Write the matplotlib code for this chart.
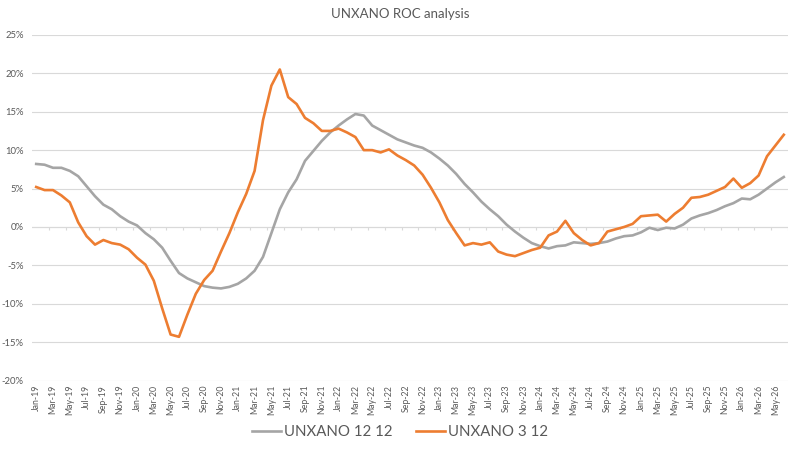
import matplotlib
matplotlib.use("Agg")
import matplotlib.pyplot as plt
import numpy as np
import pandas as pd
from matplotlib.ticker import FuncFormatter

# monthly categories Jan-19 .. Jun-26
months = pd.date_range("2019-01-01", periods=90, freq="MS")
month_labels = [d.strftime("%b-%y") for d in months]

# UNXANO 12 12 (grey), percent
roc_12_12 = [8.2, 8.1, 7.7, 7.7, 7.3, 6.6, 5.3, 4.0, 2.9, 2.3,
             1.4, 0.7, 0.2, -0.8, -1.6, -2.7, -4.4, -6.0, -6.7, -7.2,
             -7.7, -7.9, -8.0, -7.8, -7.4, -6.7, -5.7, -3.9, -0.8, 2.3,
             4.5, 6.2, 8.6, 9.9, 11.2, 12.3, 13.2, 14.0, 14.7, 14.5,
             13.2, 12.6, 12.0, 11.4, 11.0, 10.6, 10.3, 9.7, 8.9, 8.0,
             6.9, 5.6, 4.5, 3.3, 2.3, 1.4, 0.3, -0.6, -1.4, -2.1,
             -2.5, -2.8, -2.5, -2.4, -2.0, -2.1, -2.2, -2.1, -1.9, -1.5,
             -1.2, -1.1, -0.7, -0.1, -0.4, -0.1, -0.2, 0.3, 1.1, 1.5,
             1.8, 2.2, 2.7, 3.1, 3.7, 3.6, 4.2, 5.0, 5.8, 6.5]

# UNXANO 3 12 (orange), percent
roc_3_12 = [5.2, 4.8, 4.8, 4.1, 3.2, 0.6, -1.2, -2.3, -1.7, -2.1,
            -2.3, -2.9, -4.0, -4.9, -7.0, -10.6, -14.0, -14.3, -11.4, -8.7,
            -6.9, -5.7, -3.2, -0.8, 1.9, 4.3, 7.3, 13.9, 18.4, 20.5,
            16.9, 16.0, 14.2, 13.5, 12.5, 12.5, 12.8, 12.3, 11.7, 10.0,
            10.0, 9.7, 10.1, 9.3, 8.7, 8.0, 6.8, 5.1, 3.2, 0.9,
            -0.8, -2.4, -2.1, -2.3, -2.0, -3.2, -3.6, -3.8, -3.4, -3.0,
            -2.7, -1.1, -0.6, 0.8, -0.8, -1.7, -2.4, -2.1, -0.6, -0.3,
            0.0, 0.4, 1.4, 1.5, 1.6, 0.7, 1.7, 2.5, 3.8, 3.9,
            4.2, 4.7, 5.2, 6.3, 5.1, 5.7, 6.7, 9.2, 10.6, 12.0]

plt.rcParams['font.family'] = ['Lato', 'DejaVu Sans']
txt = '#595959'

fig = plt.figure(figsize=(8, 4.49), dpi=100)
ax = fig.add_axes([0.04, 0.1523, 0.945, 0.77])

x = np.arange(len(months))
ax.plot(x, roc_12_12, color='#A5A5A5', lw=1.9, label='UNXANO 12 12', zorder=3)
ax.plot(x, roc_3_12, color='#ED7D31', lw=1.9, label='UNXANO 3 12', zorder=4)

ax.set_xlim(-0.5, len(months) - 0.5)
ax.set_ylim(-20, 25)
ax.set_yticks(range(-20, 26, 5))
ax.yaxis.set_major_formatter(FuncFormatter(lambda v, p: '%d%%' % v))
ax.grid(axis='y', color='#d9d9d9', lw=0.8, zorder=0)
ax.set_axisbelow(True)

for s in ax.spines.values():
    s.set_visible(False)

# category axis crosses at 0 with small ticks every two months
ax.axhline(0, color='#d9d9d9', lw=0.8, zorder=1)
ax.vlines(np.arange(1.5, len(months), 2), -0.4, 0, color='#d9d9d9', lw=0.8, zorder=1)

ax.set_xticks(x[::2])
ax.set_xticklabels(month_labels[::2], rotation=90, fontsize=6.3, color=txt)
ax.tick_params(axis='x', length=0, pad=3)
ax.tick_params(axis='y', length=0, pad=6, labelsize=6.8, labelcolor=txt)

fig.suptitle('UNXANO ROC analysis', y=0.982, fontsize=9.5, color=txt)

leg = fig.legend(loc='center', bbox_to_anchor=(0.5, 0.037), ncol=2, frameon=False,
                 fontsize=10.8, handlelength=1.9, columnspacing=1.6, handletextpad=0.2)
for t in leg.get_texts():
    t.set_color(txt)

fig.savefig('out.png', dpi=100)
